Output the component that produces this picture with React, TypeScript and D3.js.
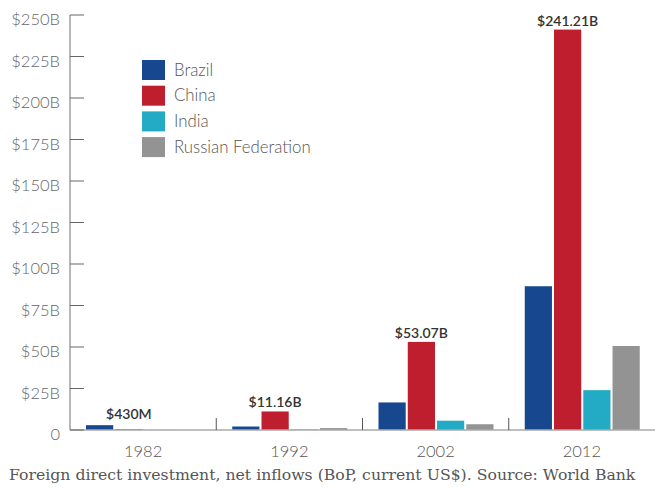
import React from "react";
import * as d3 from "d3";

const years = ["1982", "1992", "2002", "2012"];
const seriesNames = ["Brazil", "China", "India", "Russian Federation"];
const seriesColors = ["#17488f", "#be1e2d", "#23aac4", "#939393"];
const brazil = [2.91, 2.1, 16.6, 86.6];
const china = [0.43, 11.16, 53.07, 241.21];
const india = [0.07, 0.28, 5.6, 24.0];
const russia = [null, 1.16, 3.46, 50.6];
const chinaLabels = ["$430M", "$11.16B", "$53.07B", "$241.21B"];
const yTicks = [0, 25, 50, 75, 100, 125, 150, 175, 200, 225, 250];
const caption = "Foreign direct investment, net inflows (BoP, current US$). Source: World Bank";

const W = 655;
const H = 489;
const left = 70;
const right = 655;
const top = 15;
const bottom = 430;

export default function App() {
  const values = [brazil, china, india, russia];
  const x0 = d3.scaleBand<string>().domain(years).range([left, right]).padding(0);
  const x1 = d3
    .scaleBand<string>()
    .domain(seriesNames)
    .range([16, 131])
    .paddingInner(0.07);
  const y = d3.scaleLinear().domain([0, 250]).range([bottom, top]);
  const font = "Lato, 'Open Sans', sans-serif";

  return (
    <svg
      width={W}
      height={H}
      style={{ position: "absolute", left: 0, top: 0, background: "#fff" }}
    >
      {/* bars */}
      {years.map((yr, i) => (
        <g key={yr} transform={`translate(${x0(yr)},0)`}>
          {seriesNames.map((s, si) => {
            const v = values[si][i];
            if (v == null) return null;
            return (
              <rect
                key={s}
                x={x1(s)}
                y={y(v)}
                width={x1.bandwidth()}
                height={bottom - y(v)}
                fill={seriesColors[si]}
              />
            );
          })}
        </g>
      ))}
      {/* value labels */}
      {years.map((yr, i) => {
        const groupMax = d3.max(values.map((a) => a[i] ?? 0)) as number;
        const cx = (x0(yr) as number) + (x1("China") as number) + x1.bandwidth() / 2;
        return (
          <text
            key={yr}
            x={cx}
            y={y(Math.max(groupMax, 4)) - 4}
            textAnchor="middle"
            fontFamily={font}
            fontWeight={600}
            fontSize={14}
            fill="#333"
          >
            {chinaLabels[i]}
          </text>
        );
      })}
      {/* x axis */}
      <line x1={left} x2={right} y1={bottom} y2={bottom} stroke="#aaa" strokeWidth={1.5} />
      {years.slice(1).map((yr) => (
        <line
          key={yr}
          x1={x0(yr)}
          x2={x0(yr)}
          y1={bottom}
          y2={bottom - 12}
          stroke="#555"
          strokeWidth={1}
        />
      ))}
      {years.map((yr) => (
        <text
          key={yr}
          x={(x0(yr) as number) + x0.bandwidth() / 2}
          y={457}
          textAnchor="middle"
          fontFamily={font}
          fontWeight={300}
          fontSize={16.5}
          fill="#555"
        >
          {yr}
        </text>
      ))}
      {/* y axis */}
      <line x1={left} x2={left} y1={top} y2={bottom} stroke="#888" strokeWidth={1.2} />
      {yTicks.map((t) => (
        <g key={t}>
          <line x1={left} x2={left + 14} y1={y(t)} y2={y(t)} stroke="#666" strokeWidth={1} />
          <text
            x={60}
            y={y(t) + 10}
            textAnchor="end"
            fontFamily={font}
            fontWeight={300}
            fontSize={16.5}
            fill="#666"
          >
            {t === 0 ? "0" : `$${t}B`}
          </text>
        </g>
      ))}
      {/* legend */}
      {seriesNames.map((s, si) => (
        <g key={s} transform={`translate(142,${60 + si * 25.7})`}>
          <rect width={23} height={20} fill={seriesColors[si]} />
          <text x={32} y={15.5} fontFamily={font} fontWeight={300} fontSize={16.8} fill="#555">
            {s}
          </text>
        </g>
      ))}
      {/* caption */}
      <text x={9} y={480} fontFamily="'DejaVu Serif', serif" fontSize={15.7} fill="#555">
        {caption}
      </text>
    </svg>
  );
}
